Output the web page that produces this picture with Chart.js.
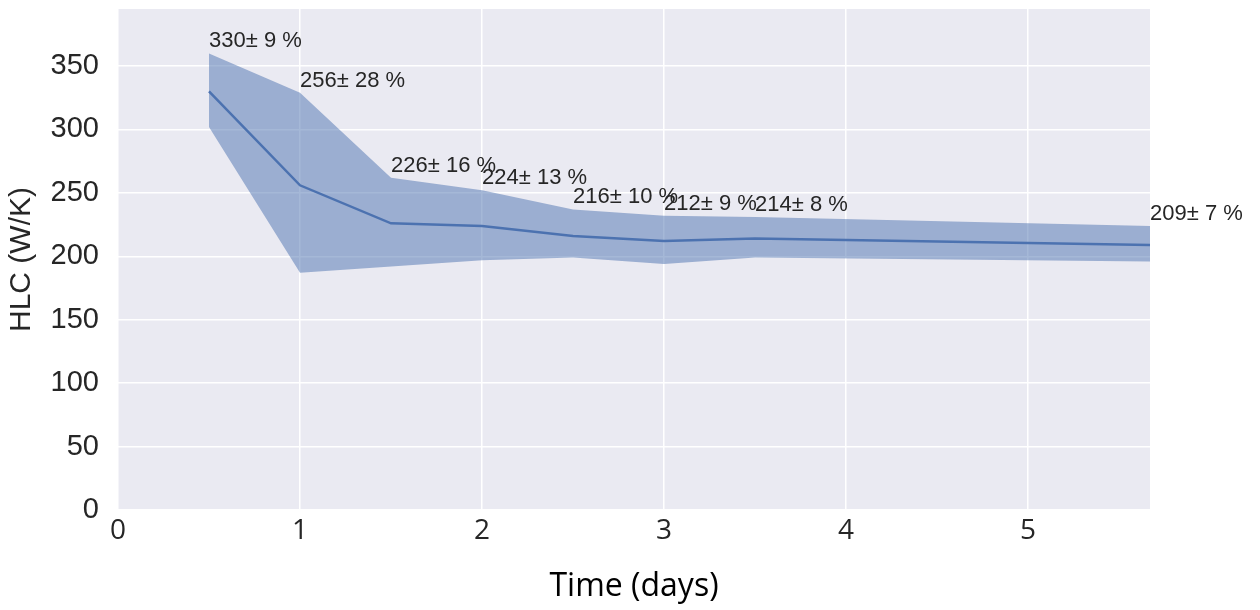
<!DOCTYPE html>
<html>
<head>
<meta charset="utf-8">
<script src="https://cdn.jsdelivr.net/npm/chart.js@4.4.1/dist/chart.umd.min.js"></script>
<style>
    html, body { margin: 0; padding: 0; background: #ffffff; }
    #wrap { width: 1260px; height: 610px; position: relative; }
</style>
</head>
<body>
<div id="wrap"><canvas id="hlc-chart"></canvas></div>
<script>
// values
const days = [0.5, 1, 1.5, 2, 2.5, 3, 3.5, 5.67];
const hlcMean = [330, 256, 226, 224, 216, 212, 214, 209];
const hlcUpper = [360, 329, 262, 252, 237, 232, 231, 224];
const hlcLower = [302, 187, 192, 197, 199, 194, 199, 196];
const uncertaintyPct = [9, 28, 16, 13, 10, 9, 8, 7];
const xTicks = [0, 1, 2, 3, 4, 5];
const yTicks = [0, 50, 100, 150, 200, 250, 300, 350];

const toPoints = (ys) => days.map((d, i) => ({ x: d, y: ys[i] }));

const lineColor = '#4C72B0';
const bandColor = 'rgba(76, 114, 176, 0.5)';
const plotBg = '#EAEAF2';

const plotBackground = {
    id: 'plotBackground',
    beforeDraw(chart) {
        const { ctx, chartArea } = chart;
        ctx.save();
        ctx.fillStyle = plotBg;
        ctx.fillRect(chartArea.left, chartArea.top, chartArea.right - chartArea.left, chartArea.bottom - chartArea.top);
        ctx.restore();
    }
};

// "330± 9 %" labels sitting on top of the upper band edge
const bandLabels = {
    id: 'bandLabels',
    afterDatasetsDraw(chart) {
        const { ctx, scales } = chart;
        ctx.save();
        ctx.font = '22px "Liberation Sans", Arial, sans-serif';
        ctx.fillStyle = '#262626';
        ctx.textAlign = 'left';
        ctx.textBaseline = 'bottom';
        days.forEach((d, i) => {
            const px = scales.x.getPixelForValue(d);
            const py = scales.y.getPixelForValue(hlcUpper[i]);
            ctx.fillText(hlcMean[i] + '\u00b1 ' + uncertaintyPct[i] + ' %', px, py - 1);
        });
        ctx.restore();
    }
};

new Chart(document.getElementById('hlc-chart'), {
    type: 'line',
    data: {
        datasets: [
            {
                label: 'upper',
                data: toPoints(hlcUpper),
                borderWidth: 0,
                borderColor: 'rgba(0,0,0,0)',
                backgroundColor: bandColor,
                pointRadius: 0,
                fill: '+1'
            },
            {
                label: 'lower',
                data: toPoints(hlcLower),
                borderWidth: 0,
                borderColor: 'rgba(0,0,0,0)',
                pointRadius: 0,
                fill: false
            },
            {
                label: 'HLC',
                data: toPoints(hlcMean),
                borderColor: lineColor,
                borderWidth: 2.5,
                pointRadius: 0,
                fill: false
            }
        ]
    },
    options: {
        responsive: true,
        maintainAspectRatio: false,
        animation: false,
        layout: { padding: { top: 9, right: 110, left: 0, bottom: 0 } },
        plugins: {
            legend: { display: false },
            tooltip: { enabled: false }
        },
        scales: {
            x: {
                type: 'linear',
                min: 0,
                max: 5.67,
                afterBuildTicks: (scale) => { scale.ticks = xTicks.map(v => ({ value: v })); },
                afterFit: (scale) => {
                    scale.height = 100;
                    scale.paddingLeft = 0;
                    scale.paddingRight = 0;
                },
                grid: { color: '#ffffff', lineWidth: 1.5, drawTicks: false },
                border: { display: false },
                ticks: {
                    padding: 4,
                    color: '#262626',
                    font: { family: '"Liberation Sans Narrow", "Open Sans", sans-serif', size: 28 }
                },
                title: {
                    display: true,
                    text: 'Time (days)',
                    color: '#000000',
                    padding: { top: 10 },
                    font: { family: '"Open Sans", sans-serif', size: 32 }
                }
            },
            y: {
                min: 0,
                max: 395,
                afterBuildTicks: (scale) => { scale.ticks = yTicks.map(v => ({ value: v })); },
                afterFit: (scale) => {
                    scale.width = 118;
                    scale.paddingTop = 0;
                    scale.paddingBottom = 0;
                },
                grid: { color: '#ffffff', lineWidth: 1.5, drawTicks: false },
                border: { display: false },
                ticks: {
                    padding: 19,
                    color: '#262626',
                    font: { family: '"Liberation Sans", Arial, sans-serif', size: 29 }
                },
                title: {
                    display: true,
                    text: 'HLC (W/K)',
                    color: '#262626',
                    padding: { bottom: 0 },
                    font: { family: '"Liberation Sans", Arial, sans-serif', size: 30 }
                }
            }
        }
    },
    plugins: [plotBackground, bandLabels]
});
</script>
</body>
</html>
